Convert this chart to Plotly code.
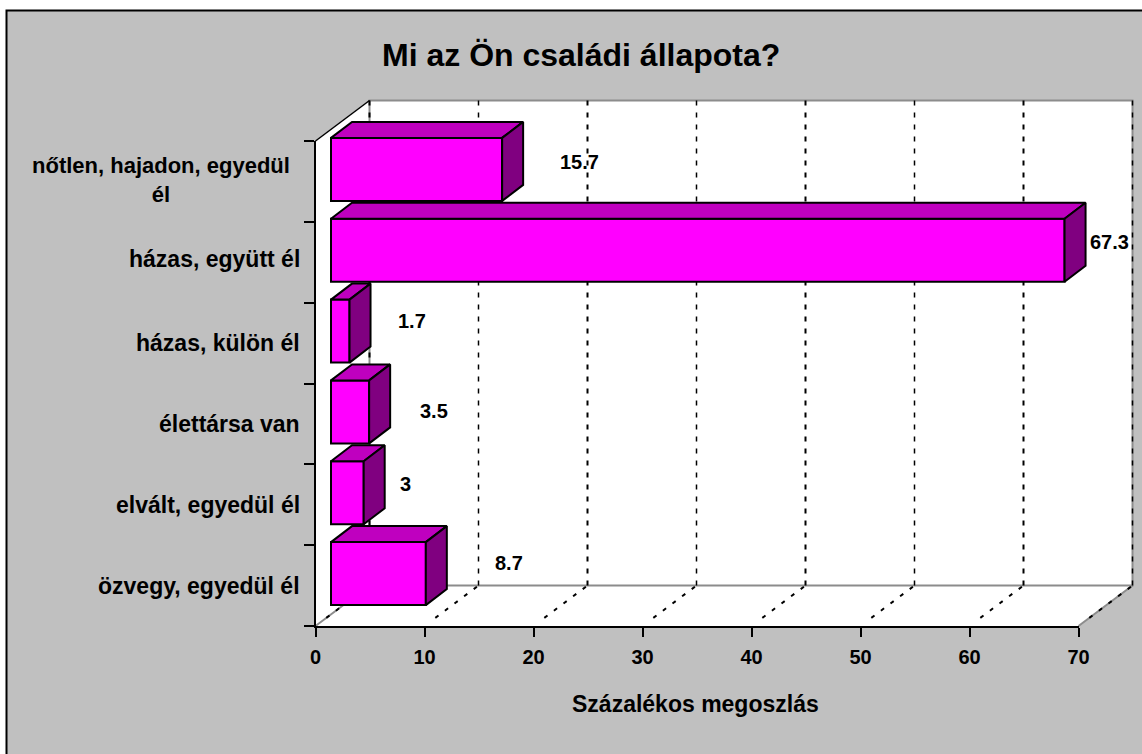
import plotly.graph_objects as go

W, H = 1142, 754
title = "Mi az Ön családi állapota?"
axis_title = "Százalékos megoszlás"
categories = ["nőtlen, hajadon, egyedül<br>él", "házas, együtt él", "házas, külön él",
              "élettársa van", "elvált, egyedül él", "özvegy, egyedül él"]
values = [15.7, 67.3, 1.7, 3.5, 3, 8.7]
value_labels = ["15.7", "67.3", "1.7", "3.5", "3", "8.7"]
x_ticks = [0, 10, 20, 30, 40, 50, 60, 70]

# label nudges (pixels)
label_dx = [93, 60, 78, 80, 57, 99]
label_dy = [19, 20, 22, 13, 21, 23]
cat_label_right = [-24, -14, -14, -14, -14, -14]
cat_label_up = [1, 3, 0, 0, 0, 0]
cat_label_size = [22, 23, 23, 23, 23, 23]

# geometry in pixels of the reference
X0, X70, Y0, Y6 = 315.5, 1078.5, 626.0, 141.0
PAD = 3
PX_X = (X70 - X0) / 70
PX_Y = (Y0 - Y6) / 6
DX, DY = 54 / PX_X, 40.5 / PX_Y            # wall depth
BDX, BDY = 21 / PX_X, 16 / PX_Y            # bar depth
START, LIFT = 15.5 / PX_X, 12 / PX_Y       # bar offset on the floor
BAR_H = 63 / PX_Y

FRONT, TOP, SIDE = "#FF00FF", "#BF00BF", "#800080"
GRAY, WALLLINE = "#C0C0C0", "#8C8C8C"
FONT = "Liberation Sans"

fig = go.Figure()
centers = [5.5 - i for i in range(len(values))]
bottoms = [c + LIFT - BAR_H / 2 for c in centers]
tops = [c + LIFT + BAR_H / 2 for c in centers]

fig.add_trace(go.Bar(orientation="h", base=START, x=values, y=[c + LIFT for c in centers],
                     width=BAR_H, marker=dict(color=FRONT, line=dict(color="black", width=2)),
                     hoverinfo="skip", showlegend=False, xaxis="x", yaxis="y"))

for v, b, t in zip(values, bottoms, tops):
    xl, xr = START, START + v
    fig.add_trace(go.Scatter(x=[xl, xl + BDX, xr + BDX, xr, xl], y=[t, t + BDY, t + BDY, t, t],
                             mode="lines", fill="toself", fillcolor=TOP,
                             line=dict(color="black", width=2), hoverinfo="skip",
                             showlegend=False, xaxis="x", yaxis="y"))
    fig.add_trace(go.Scatter(x=[xr, xr + BDX, xr + BDX, xr, xr], y=[t, t + BDY, b + BDY, b, t],
                             mode="lines", fill="toself", fillcolor=SIDE,
                             line=dict(color="black", width=2), hoverinfo="skip",
                             showlegend=False, xaxis="x", yaxis="y"))

# hidden trace so the front axes exist
fig.add_trace(go.Scatter(x=[0, 70], y=[0, 6], mode="markers", marker=dict(opacity=0),
                         hoverinfo="skip", showlegend=False, xaxis="x2", yaxis="y2"))

# the frame runs off the picture at the right and at the bottom
shapes = [dict(type="rect", xref="paper", yref="paper", x0=6.5 / W, x1=(W + 6) / W,
               y0=-6 / H, y1=1 - 10.5 / H, fillcolor=GRAY,
               line=dict(color="black", width=2), layer="below")]
ref = dict(xref="x", yref="y", layer="below")
# walls and floor
shapes.append(dict(type="path", path=f"M 0 0 L {DX} {DY} L {DX} {6 + DY} L 0 6 Z",
                   fillcolor="white", line=dict(width=0), **ref))
shapes.append(dict(type="path", path=f"M 0 0 L 70 0 L {70 + DX} {DY} L {DX} {DY} Z",
                   fillcolor="white", line=dict(width=0), **ref))
shapes.append(dict(type="rect", x0=DX, x1=70 + DX, y0=DY, y1=6 + DY,
                   fillcolor="white", line=dict(color=WALLLINE, width=2), **ref))
shapes.append(dict(type="line", x0=0, y0=6, x1=DX, y1=6 + DY, line=dict(color="black", width=1.5), **ref))
shapes.append(dict(type="line", x0=0, y0=0, x1=DX, y1=DY, line=dict(color=WALLLINE, width=2), **ref))
shapes.append(dict(type="line", x0=70, y0=0, x1=70 + DX, y1=DY, line=dict(color=WALLLINE, width=2), **ref))
for i, t in enumerate(x_ticks):
    w = 2 if i % 2 == 0 else 1.5
    shapes.append(dict(type="line", x0=t + DX, x1=t + DX, y0=DY, y1=6 + DY,
                       line=dict(color="black", width=w, dash="5px,7px"), **ref))
    f = 0.2
    shapes.append(dict(type="line", x0=t + f * DX, x1=t + DX, y0=f * DY, y1=DY,
                       line=dict(color="black", width=2, dash="4px,8px"), **ref))

annos = []
for c, v, s, dx, dy in zip(centers, values, value_labels, label_dx, label_dy):
    annos.append(dict(x=v, y=c, xref="x2", yref="y2", text=s, showarrow=False,
                      xshift=dx, yshift=dy, font=dict(size=20, color="black", family=FONT, weight="bold")))
for c, s, dx, up, sz in zip(centers, categories, cat_label_right, cat_label_up, cat_label_size):
    annos.append(dict(x=0, y=c, xref="x2", yref="y2", text=s, showarrow=False, xanchor="right",
                      xshift=dx, yshift=up, align="center",
                      font=dict(size=sz, color="black", family=FONT, weight="bold")))
annos.append(dict(x=695 / W, y=1 - 704 / H, xref="paper", yref="paper", text=axis_title, showarrow=False,
                  xanchor="center", yanchor="middle",
                  font=dict(size=23, color="black", family=FONT, weight="bold")))
annos.append(dict(x=581 / W, y=1 - 55 / H, xref="paper", yref="paper", text=title, showarrow=False,
                  xanchor="center", yanchor="middle",
                  font=dict(size=32, color="black", family=FONT, weight="bold")))

fig.update_layout(
    width=W, height=H, autosize=False,
    margin=dict(l=0, r=0, t=0, b=0, pad=0, autoexpand=False),
    paper_bgcolor="white", plot_bgcolor="rgba(0,0,0,0)", showlegend=False,
    barmode="overlay", shapes=shapes, annotations=annos,
    xaxis2=dict(domain=[X0 / W, X70 / W], range=[0, 70], tickvals=x_ticks, ticks="outside", ticklen=9,
                tickwidth=2, tickcolor="black", showline=True, linecolor="black", linewidth=2,
                showgrid=False, zeroline=False, anchor="y2", ticklabelstandoff=3,
                tickfont=dict(size=20, color="black", family=FONT, weight="bold")),
    yaxis2=dict(domain=[1 - Y0 / H, 1 - Y6 / H], range=[0, 6], tickvals=list(range(7)), ticks="outside", ticklen=10,
                tickwidth=2, tickcolor="black", showline=True, linecolor="black", linewidth=2,
                showticklabels=False, showgrid=False, zeroline=False, anchor="x2"),
    xaxis=dict(domain=[(X0 - PAD) / W, (X70 + 54 + PAD) / W],
               range=[-PAD / PX_X, 70 + DX + PAD / PX_X], visible=False, anchor="y"),
    yaxis=dict(domain=[1 - (Y0 + PAD) / H, 1 - (Y6 - 40.5 - PAD) / H],
               range=[-PAD / PX_Y, 6 + DY + PAD / PX_Y], visible=False, anchor="x"),
)

fig.write_html("out.html", config=dict(displayModeBar=False),
               post_script="document.body.style.margin='0';")
